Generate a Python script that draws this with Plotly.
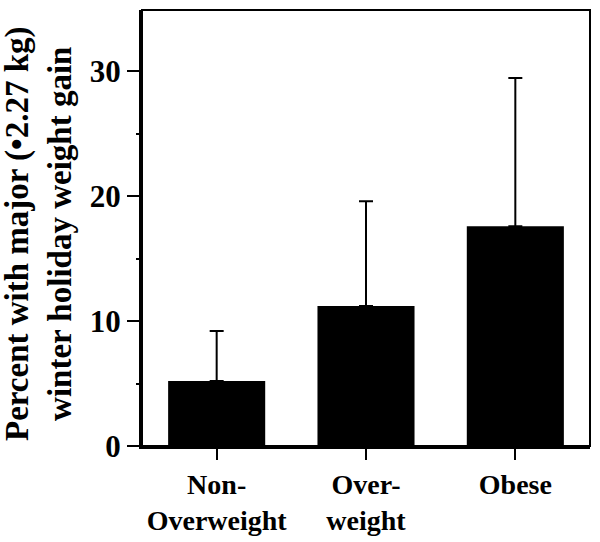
import plotly.graph_objects as go

categories = ["Non-<br>Overweight", "Over-<br>weight", "Obese"]
percent = [5.2, 11.2, 17.6]
error_upper = [4.0, 8.4, 11.85]
y_ticks = [0, 10, 20, 30]
y_title = "Percent with major (•2.27 kg)<br>winter holiday weight gain"

FONT = "Liberation Serif"
L, R, T, B = 142, 10, 10, 96
W, H = 600, 542

fig = go.Figure()
fig.add_trace(go.Bar(
    x=categories,
    y=percent,
    width=0.65,
    marker=dict(color="black", line=dict(width=0)),
    error_y=dict(type="data", array=error_upper, arrayminus=[0, 0, 0],
                 symmetric=False, color="black", thickness=2, width=7),
))

fig.add_shape(type="rect", xref="paper", yref="paper", x0=0, x1=1, y0=0, y1=1,
              line=dict(color="black", width=2), layer="above")

pw = W - L - R
ph = H - T - B
fig.add_annotation(
    text=y_title, textangle=-90, showarrow=False,
    xref="paper", yref="paper",
    x=(38 - L) / pw, y=(H - B - 234) / ph,
    xanchor="center", yanchor="middle",
    font=dict(family=FONT, size=33, weight="bold", color="black"),
)

fig.update_layout(
    width=W, height=H,
    margin=dict(l=L, r=R, t=T, b=B, autoexpand=False),
    plot_bgcolor="white", paper_bgcolor="white",
    showlegend=False,
    font=dict(family=FONT, color="black", size=28, weight="bold"),
    xaxis=dict(
        range=[-0.5, 2.5], automargin=False,
        showline=True, linecolor="black", linewidth=3,
        ticks="outside", ticklen=11, tickwidth=2, tickcolor="black",
        tickfont=dict(family=FONT, size=28, weight="bold"),
        showgrid=False, zeroline=False,
    ),
    yaxis=dict(
        range=[0, 34.9], automargin=False,
        tickvals=y_ticks,
        showline=True, linecolor="black", linewidth=3,
        ticks="outside", ticklen=12, tickwidth=2, tickcolor="black",
        tickfont=dict(family=FONT, size=31, weight="bold"),
        minor=dict(tickvals=[5, 15, 25], ticks="outside", ticklen=3, tickwidth=2, tickcolor="black"),
        showgrid=False, zeroline=False,
    ),
)

fig.write_html("out.html", config={"displayModeBar": False},
               post_script="document.body.style.margin='0';document.body.style.padding='0';")
